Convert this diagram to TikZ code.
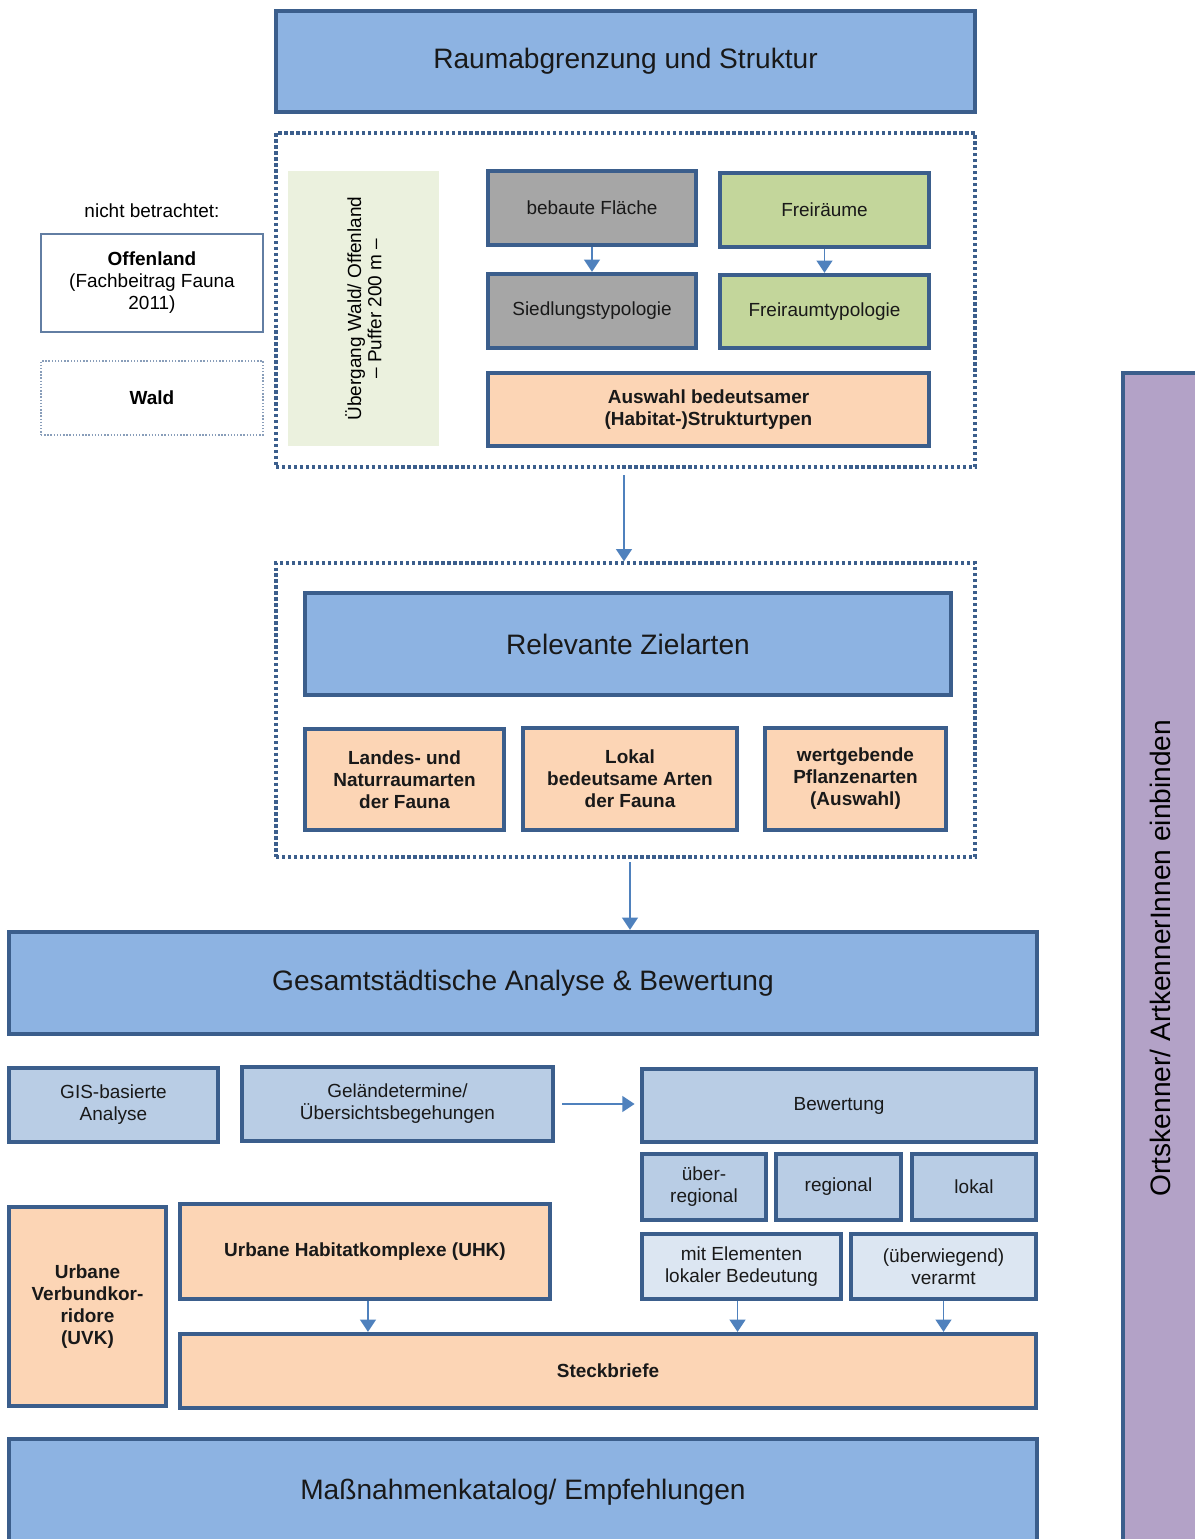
\documentclass[tikz,border=0pt]{standalone}
\usepackage{fontspec}
\setmainfont{Liberation Sans}
\usetikzlibrary{arrows.meta,positioning}

\definecolor{frameblue}{HTML}{3B5E8C}
\definecolor{arrowblue}{HTML}{4F81BD}
\definecolor{mainblue}{HTML}{8DB3E2}
\definecolor{lightblue}{HTML}{B9CDE5}
\definecolor{paleblue}{HTML}{DCE6F2}
\definecolor{greybox}{HTML}{A6A6A6}
\definecolor{greenbox}{HTML}{C3D69B}
\definecolor{peach}{HTML}{FCD5B5}
\definecolor{palegreen}{HTML}{EBF1DE}
\definecolor{lilac}{HTML}{B3A2C7}

\tikzset{
  corners/.style n args = {4}{minimum width={(#3-#1)*0.02cm},
                     minimum height={(#4-#2)*0.02cm},
                     at={({(#1+#3)/2},{(#2+#4)/2})}},
  box/.style      = {draw=frameblue, line width=2.4pt, inner sep=0pt, align=center,
                     text=black!90, font=\fontsize{10.8}{12.5}\selectfont},
  bigbox/.style   = {box, fill=mainblue, font=\fontsize{16}{19}\selectfont},
  greybx/.style   = {box, fill=greybox},
  greenbx/.style  = {box, fill=greenbox},
  peachbx/.style  = {box, fill=peach, font=\fontsize{10.8}{12.5}\selectfont\bfseries},
  lightbx/.style  = {box, fill=lightblue},
  palebx/.style   = {box, fill=paleblue},
  thinbox/.style  = {draw=frameblue!80, line width=0.8pt, inner sep=0pt, align=center,
                     font=\fontsize{10.8}{12.5}\selectfont},
  dotframe/.style = {draw=frameblue, line width=1.9pt, inner sep=0pt,
                     dash pattern=on 1.9pt off 1.5pt},
  flow/.style     = {draw=arrowblue, line width=1.1pt,
                     -{Triangle[length=7pt,width=9pt]}},
  plain/.style    = {font=\fontsize{10.8}{12.5}\selectfont, align=center},
}

\begin{document}
\begin{tikzpicture}[x=0.02cm,y=-0.02cm]
  \useasboundingbox (0,0) rectangle (1194,1539);

  % ---- Raumabgrenzung ----------------------------------------------------
  \node[bigbox, corners={276}{11}{975}{112}] (raum) {Raumabgrenzung und Struktur};
  \node[dotframe, corners={276}{133}{975}{467}] (frameA) {};

  \node[plain] (nicht) at (152,211) {nicht betrachtet:};
  \node[thinbox, corners={41}{234}{263}{332}] (offen)
    {\textbf{Offenland}\\(Fachbeitrag Fauna\\2011)};
  \node[thinbox, densely dotted, draw=frameblue!60, corners={41}{361}{263}{435}] (wald)
    {\textbf{Wald}};

  \node[fill=palegreen, inner sep=0pt, corners={288}{171}{439}{446}] (uebergang) {};
  \node[plain, rotate=90, font=\fontsize{10.8}{11.5}\selectfont] (uebergangtext)
    at (uebergang.center) {Übergang Wald/ Offenland\\– Puffer 200 m –};

  \node[greybx, corners={488}{171}{696}{245}] (bebaut) {bebaute Fläche};
  \node[greenbx, corners={720}{173}{929}{247}] (frei) {Freiräume};
  \node[greybx, corners={488}{274}{696}{348}] (siedlung) {Siedlungstypologie};
  \node[greenbx, corners={720}{275}{929}{348}] (freityp) {Freiraumtypologie};
  \node[peachbx, corners={488}{373}{929}{446}] (auswahl)
    {Auswahl bedeutsamer\\(Habitat-)Strukturtypen};

  \draw[flow] (bebaut.south) -- (siedlung.north);
  \draw[flow] (frei.south) -- (freityp.north);

  % ---- Zielarten ---------------------------------------------------------
  \node[dotframe, corners={276}{563}{975}{857}] (frameB) {};
  \coordinate (raumout) at (624,475);
  \draw[flow] (raumout) -- (raumout |- frameB.north);

  \node[bigbox, corners={305}{593}{951}{695}] (ziel) {Relevante Zielarten};
  \node[peachbx, corners={305}{729}{504}{830}] (landes)
    {Landes- und\\Naturraumarten\\der Fauna};
  \node[peachbx, corners={523}{728}{737}{830}] (lokalart)
    {Lokal\\bedeutsame Arten\\der Fauna};
  \node[peachbx, corners={765}{728}{946}{830}] (pflanzen)
    {wertgebende\\Pflanzenarten\\(Auswahl)};

  % ---- Gesamtstaedtische Analyse -----------------------------------------
  \node[bigbox, corners={9}{932}{1037}{1034}] (gesamt) {Gesamtstädtische Analyse \& Bewertung};
  \coordinate (zielout) at (630,862);
  \draw[flow] (zielout) -- (zielout |- gesamt.north);

  \node[lightbx, corners={9}{1068}{218}{1142}] (gis) {GIS-basierte\\Analyse};
  \node[lightbx, corners={242}{1067}{553}{1141}] (gelaende)
    {Geländetermine/\\Übersichtsbegehungen};
  \node[lightbx, corners={642}{1069}{1036}{1142}] (bewertung) {Bewertung};
  \draw[flow, shorten <=4pt, shorten >=3pt] (gelaende.east) -- (gelaende.east -| bewertung.west);

  \node[lightbx, corners={642}{1154}{766}{1220}] (ueberreg) {über-\\regional};
  \node[lightbx, corners={776}{1154}{901}{1220}] (regional) {regional};
  \node[lightbx, corners={912}{1154}{1036}{1220}] (lokal) {lokal};
  \node[palebx, corners={642}{1234}{841}{1299}] (mitelem)
    {mit Elementen\\lokaler Bedeutung};
  \node[palebx, corners={851}{1234}{1036}{1299}] (verarmt)
    {(überwiegend)\\verarmt};

  \node[peachbx, corners={9}{1207}{166}{1406}] (uvk)
    {Urbane\\Verbundkor-\\ridore\\(UVK)};
  \node[peachbx, corners={180}{1204}{550}{1299}] (uhk)
    {Urbane Habitatkomplexe (UHK)};
  \node[peachbx, corners={180}{1334}{1036}{1408}] (steck) {Steckbriefe};

  \draw[flow] ([xshift=3*0.567pt]uhk.south) -- ([xshift=3*0.567pt]uhk.south |- steck.north);
  \draw[flow] ([xshift=-4*0.567pt]mitelem.south) -- ([xshift=-4*0.567pt]mitelem.south |- steck.north);
  \draw[flow] (verarmt.south) -- (verarmt.south |- steck.north);

  % ---- Massnahmen --------------------------------------------------------
  \node[bigbox, corners={9}{1439}{1037}{1546}] (massnahmen) {Maßnahmenkatalog/ Empfehlungen};

  \node[box, fill=lilac, corners={1123}{373}{1204}{1546}] (ortskenner) {};
  \node[rotate=90, font=\fontsize{16}{19}\selectfont] (ortstext) at (1160,958)
    {Ortskenner/ ArtkennerInnen einbinden};
\end{tikzpicture}
\end{document}
